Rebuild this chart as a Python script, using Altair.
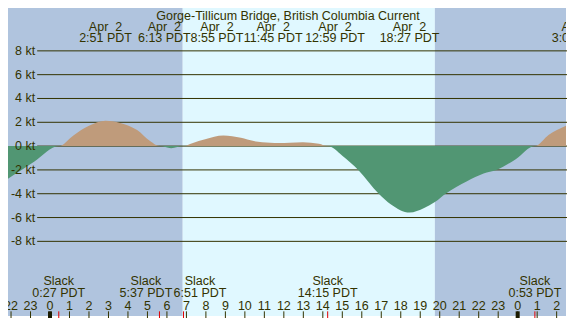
import altair as alt
import pandas as pd

# ---------------- data ----------------
title_text = "Gorge-Tillicum Bridge, British Columbia Current"

# tidal current (knots) vs hours from midnight Apr 2 (PDT)
curve_hour = [-2.156, -1.5, -0.8, 0.45, 1.2, 2.0, 2.85, 3.6, 4.47, 5.15, 5.617, 6.217, 6.85,
              7.3, 7.96, 8.9, 9.8, 10.46, 11.3, 11.75, 12.3, 12.98, 13.8, 14.25,
              15.0, 15.82, 16.87, 17.5, 18.45, 19.2, 19.75, 20.3, 21.4, 22.25, 22.9, 23.9, 24.883, 25.6, 26.48]
curve_kt = [-2.74, -2.05, -1.3, 0.0, 0.9, 1.7, 2.12, 1.95, 1.35, 0.4, 0.0, -0.17, 0.0,
            0.25, 0.57, 0.89, 0.7, 0.42, 0.29, 0.27, 0.29, 0.33, 0.2, 0.0,
            -0.8, -2.0, -4.0, -4.9, -5.58, -5.2, -4.7, -4.0, -2.95, -2.3, -2.0, -1.1, 0.0, 0.95, 1.7]

grid_kt = [-8, -6, -4, -2, 0, 2, 4, 6, 8]
grid_label = ["-8 kt", "-6 kt", "-4 kt", "-2 kt", "0 kt", "2 kt", "4 kt", "6 kt", "8 kt"]

event_hour = [2.85, 6.217, 8.917, 11.75, 12.983, 18.45, 27.1]
event_date = ["Apr\u00a0\u00a02", "Apr\u00a0\u00a02", "Apr\u00a0\u00a02", "Apr\u00a0\u00a02",
              "Apr\u00a0\u00a02", "Apr\u00a0\u00a02", "Apr\u00a0\u00a03"]
event_time = ["2:51 PDT", "6:13 PDT", "8:55 PDT", "11:45 PDT", "12:59 PDT", "18:27 PDT", "3:06 PDT"]

slack_hour = [0.45, 5.617, 6.85, 14.25, 24.883]
slack_word = ["Slack", "Slack", "Slack", "Slack", "Slack"]
slack_time = ["0:27 PDT", "5:37 PDT", "6:51 PDT", "14:15 PDT", "0:53 PDT"]

hour_ticks = list(range(-2, 27))
hour_labels = [str(h % 24) for h in hour_ticks]
midnight_hours = [0, 24]

period_start = [-2.156, 6.81, 19.75]
period_end = [6.81, 19.75, 26.48]
period_kind = ["night", "day", "night"]

# ---------------- layout / style ----------------
W, H = 559, 310
SX, SY = W / 575.0, H / 326.0
X_DOMAIN = [-2.156, 26.48]
Y_DOMAIN = [-14.27, 11.6]
PX_PER_HOUR = 20.08 * SX

NIGHT = "#b0c4de"
DAY = "#e0f8ff"
FLOOD = "#bf9b7b"
EBB = "#519673"
INK = "#333300"
FONT = "Liberation Sans"
FS = 12.5

# label nudges in reference pixels (label layout offsets)
event_nudge = [0, -7, -7, -6, 33, 0, 0]
slack_nudge = [0, -14, 17, 0, 0]

xs = alt.Scale(domain=X_DOMAIN, nice=False, zero=False)
ys = alt.Scale(domain=Y_DOMAIN, nice=False, zero=False)

curve_df = pd.DataFrame({"hour": curve_hour, "kt": curve_kt})
grid_df = pd.DataFrame({"kt": grid_kt, "label": grid_label})
event_df = pd.DataFrame({"hour": event_hour, "date": event_date, "time": event_time,
                         "nudge": [n * SX for n in event_nudge]})
slack_df = pd.DataFrame({"hour": slack_hour, "word": slack_word, "time": slack_time,
                         "nudge": [n * SX for n in slack_nudge]})
hour_df = pd.DataFrame({"hour": hour_ticks, "label": hour_labels})
mid_df = pd.DataFrame({"hour": midnight_hours})
period_df = pd.DataFrame({"start": period_start, "end": period_end, "kind": period_kind})
title_df = pd.DataFrame({"t": [title_text]})

bg = alt.Chart(period_df).mark_rect(clip=True).encode(
    x=alt.X("start:Q", scale=xs, axis=None),
    x2="end:Q",
    y=alt.value(0),
    y2=alt.value(H),
    color=alt.Color("kind:N", scale=alt.Scale(domain=["night", "day"], range=[NIGHT, DAY]), legend=None),
)

grid = alt.Chart(grid_df).mark_rule(color=INK, strokeWidth=1).encode(
    y=alt.Y("kt:Q", scale=ys, axis=None),
    x=alt.value(30 * SX),
    x2=alt.value(W),
)

flood = alt.Chart(curve_df).transform_calculate(
    v="max(datum.kt, 0)", z="0"
).mark_area(interpolate="monotone", color=FLOOD, clip=True).encode(
    x=alt.X("hour:Q", scale=xs, axis=None),
    y=alt.Y("v:Q", scale=ys, axis=None),
    y2="z:Q",
)

ebb = alt.Chart(curve_df).transform_calculate(
    v="min(datum.kt, 0)", z="0"
).mark_area(interpolate="monotone", color=EBB, clip=True).encode(
    x=alt.X("hour:Q", scale=xs, axis=None),
    y=alt.Y("v:Q", scale=ys, axis=None),
    y2="z:Q",
)

ylabels = alt.Chart(grid_df).mark_text(
    align="right", baseline="middle", font=FONT, fontSize=FS, color=INK
).encode(
    y=alt.Y("kt:Q", scale=ys, axis=None),
    x=alt.value(28 * SX),
    text="label:N",
)

title = alt.Chart(title_df).mark_text(
    align="center", baseline="middle", font=FONT, fontSize=FS, color=INK
).encode(x=alt.value(W / 2 + 0.5), y=alt.value(8 * SY), text="t:N")

def two_line(df, field1, field2, y1, y2):
    base = alt.Chart(df).transform_calculate(
        lx=f"datum.hour + datum.nudge / {PX_PER_HOUR}"
    )
    l1 = base.mark_text(align="center", baseline="middle", font=FONT, fontSize=FS,
                        color=INK, clip=True).encode(
        x=alt.X("lx:Q", scale=xs, axis=None), y=alt.value(y1 * SY), text=f"{field1}:N")
    l2 = base.mark_text(align="center", baseline="middle", font=FONT, fontSize=FS,
                        color=INK, clip=True).encode(
        x=alt.X("lx:Q", scale=xs, axis=None), y=alt.value(y2 * SY), text=f"{field2}:N")
    return l1 + l2

top_labels = two_line(event_df, "date", "time", 19.5, 31.5)
bottom_labels = two_line(slack_df, "word", "time", 287.5, 299.5)

hour_text = alt.Chart(hour_df).mark_text(
    align="center", baseline="middle", font=FONT, fontSize=FS, color=INK, clip=True
).encode(x=alt.X("hour:Q", scale=xs, axis=None), y=alt.value(313 * SY), text="label:N")

hour_tick = alt.Chart(hour_df).mark_rule(color=INK, strokeWidth=1).encode(
    x=alt.X("hour:Q", scale=xs, axis=None), y=alt.value(319 * SY), y2=alt.value(H))

mid_tick = alt.Chart(mid_df).mark_rule(color="#1a1a00", strokeWidth=4).encode(
    x=alt.X("hour:Q", scale=xs, axis=None), y=alt.value(319 * SY), y2=alt.value(H))

slack_tick = alt.Chart(slack_df).mark_rule(color="#e00000", strokeWidth=1).encode(
    x=alt.X("hour:Q", scale=xs, axis=None), y=alt.value(319 * SY), y2=alt.value(H))

chart = alt.layer(
    bg, grid, flood, ebb, ylabels, title, top_labels, bottom_labels,
    hour_tick, mid_tick, slack_tick, hour_text,
).properties(
    width=W, height=H,
    autosize=alt.AutoSizeParams(type="fit", contains="padding"),
    padding=0,
).configure_view(stroke=None)

chart.save("out.html", embed_options={"renderer": "svg", "actions": False})
